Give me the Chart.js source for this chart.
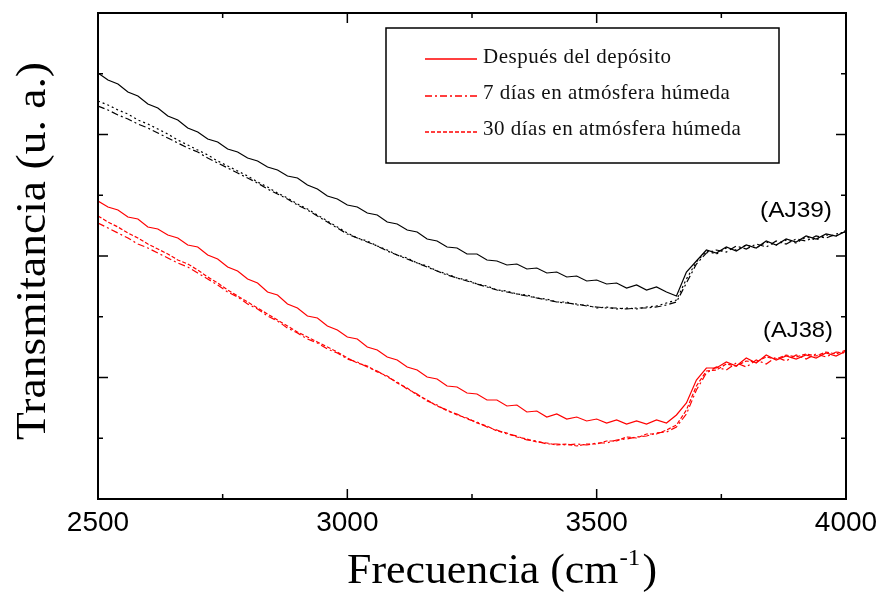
<!DOCTYPE html>
<html><head><meta charset="utf-8">
<script src="https://cdn.jsdelivr.net/npm/chart.js@4.4.1/dist/chart.umd.min.js"></script>
<style>html,body{margin:0;padding:0;background:#fff}canvas{display:block}</style>
</head><body>
<canvas id="c" width="882" height="592"></canvas>
<script>
const frecuencia = [2500,2520,2540,2560,2580,2600,2620,2640,2660,2680,2700,2720,2740,2760,2780,2800,2820,2840,2860,2880,2900,2920,2940,2960,2980,3000,3020,3040,3060,3080,3100,3120,3140,3160,3180,3200,3220,3240,3260,3280,3300,3320,3340,3360,3380,3400,3420,3440,3460,3480,3500,3520,3540,3560,3580,3600,3620,3640,3660,3680,3700,3720,3740,3760,3780,3800,3820,3840,3860,3880,3900,3920,3940,3960,3980,4000];

const aj39Despues = [42.6,41.9,41.5,40.7,40.3,39.5,39.1,38.3,37.9,37.1,36.7,36.0,35.7,35.0,34.7,34.1,33.8,33.2,32.9,32.3,32.1,31.4,31.0,30.3,30.0,29.4,29.2,28.6,28.4,27.7,27.5,26.9,26.7,26.0,25.8,25.2,25.1,24.5,24.5,23.9,23.8,23.4,23.5,23.0,23.1,22.6,22.7,22.2,22.3,21.8,21.9,21.5,21.6,21.1,21.4,20.9,21.2,20.7,20.3,22.7,23.8,24.9,24.6,25.2,24.8,25.4,25.1,25.8,25.4,26.0,25.7,26.3,26.0,26.5,26.3,26.8];
const aj39Dias7 = [39.3,38.9,38.4,38.0,37.5,37.1,36.6,36.1,35.6,35.1,34.7,34.1,33.6,33.1,32.6,32.1,31.6,31.0,30.5,30.0,29.4,28.9,28.3,27.7,27.1,26.5,26.1,25.7,25.3,24.8,24.4,24.0,23.6,23.2,22.8,22.4,22.1,21.8,21.5,21.2,20.9,20.7,20.5,20.3,20.1,19.9,19.7,19.6,19.5,19.3,19.2,19.1,19.1,19.0,19.1,19.1,19.2,19.4,19.7,21.6,23.5,24.6,24.9,24.7,25.3,25.0,25.5,25.2,25.8,25.5,26.0,25.8,26.3,26.1,26.5,26.7];
const aj39Dias30 = [39.8,39.4,38.9,38.5,37.9,37.5,37.0,36.5,35.9,35.4,34.9,34.4,33.8,33.3,32.8,32.3,31.7,31.2,30.6,30.1,29.5,29.0,28.4,27.8,27.2,26.6,26.1,25.8,25.3,24.9,24.4,24.1,23.6,23.3,22.8,22.5,22.1,21.9,21.5,21.3,20.9,20.8,20.5,20.4,20.1,20.0,19.7,19.7,19.4,19.4,19.1,19.2,19.0,19.1,19.0,19.2,19.3,19.6,19.9,22.0,23.7,24.8,24.5,25.1,24.9,25.4,25.1,25.7,25.4,25.9,25.6,26.2,25.9,26.4,26.3,26.9];
const aj38Despues = [29.8,29.2,28.9,28.2,28.0,27.2,27.0,26.4,26.1,25.4,25.2,24.4,24.0,23.2,22.8,22.0,21.6,20.7,20.4,19.5,19.1,18.3,18.1,17.3,16.9,16.2,16.0,15.2,14.9,14.2,13.9,13.2,12.9,12.2,12.0,11.3,11.2,10.6,10.5,9.9,9.9,9.3,9.4,8.7,8.8,8.2,8.5,8.0,8.2,7.8,8.0,7.6,7.9,7.5,7.8,7.5,7.9,7.6,8.4,9.6,11.9,13.1,13.1,13.7,13.3,14.1,13.6,14.4,13.9,14.3,14.0,14.4,14.1,14.6,14.3,14.8];
const aj38Dias7 = [27.6,27.1,26.6,26.1,25.5,25.1,24.6,24.1,23.6,23.2,22.6,22.0,21.4,20.7,20.2,19.5,19.0,18.3,17.8,17.1,16.6,16.0,15.6,15.0,14.6,14.0,13.7,13.2,12.8,12.2,11.7,11.0,10.5,9.8,9.4,8.8,8.5,8.0,7.7,7.2,6.9,6.5,6.3,5.9,5.8,5.5,5.5,5.4,5.5,5.4,5.6,5.6,5.9,6.0,6.2,6.3,6.6,6.7,7.2,8.5,10.9,12.6,13.2,12.9,13.6,13.2,13.9,13.5,14.2,13.8,14.4,14.0,14.5,14.2,14.7,14.6];
const aj38Dias30 = [28.3,27.7,27.2,26.6,26.1,25.5,25.0,24.5,23.9,23.5,22.9,22.2,21.6,20.9,20.3,19.7,19.1,18.5,17.9,17.3,16.7,16.2,15.7,15.2,14.7,14.1,13.6,13.3,12.7,12.3,11.6,11.1,10.4,9.9,9.3,8.9,8.4,8.1,7.6,7.3,6.8,6.6,6.2,6.0,5.7,5.6,5.4,5.5,5.3,5.5,5.5,5.8,5.8,6.2,6.1,6.5,6.5,6.9,7.4,8.9,11.3,12.8,12.9,13.5,13.3,13.8,13.7,14.2,14.0,14.4,14.2,14.5,14.3,14.7,14.5,14.9];

const xMajorTicks = [2500,3000,3500,4000];
const xMinorTicks = [2750,3250,3750];
const xTickLabels = ['2500','3000','3500','4000'];
const yTickValues = [0,6.075,12.15,18.225,24.3,30.375,36.45,42.525,48.6];
const legendLabels = ['Después del depósito','7 días en atmósfera húmeda','30 días en atmósfera húmeda'];
const sampleLabels = ['(AJ39)','(AJ38)'];
const xTitleMain = 'Frecuencia (cm';
const xTitleSup = '-1';
const xTitleEnd = ')';
const yTitle = 'Transmitancia (u. a.)';

const RED = '#ff0000', BLACK = '#000000';
const DASHDOT = [7,3,2,3], DOTTED = [2,3], DASHED = [4,2];
const pts = arr => arr.map((v,i)=>({x:frecuencia[i], y:v}));
const mk = (label, arr, color, dash) => ({label, data:pts(arr), borderColor:color, borderWidth:1.2, borderDash:dash, pointRadius:0, tension:0, fill:false});

const datasets = [
  mk(legendLabels[0], aj39Despues, BLACK, []),
  mk(legendLabels[1], aj39Dias7, BLACK, DASHDOT),
  mk(legendLabels[2], aj39Dias30, BLACK, DOTTED),
  mk(legendLabels[0], aj38Despues, RED, []),
  mk(legendLabels[1], aj38Dias7, RED, DASHDOT),
  mk(legendLabels[2], aj38Dias30, RED, DASHED)
];
const legendDashes = [[], DASHDOT, DASHED];

function fitText(ctx, text, x, y, targetW, align){
  const w = ctx.measureText(text).width;
  const s = targetW ? targetW / w : 1;
  ctx.save();
  ctx.translate(x, y);
  ctx.scale(s, 1);
  ctx.textAlign = align || 'left';
  ctx.fillText(text, 0, 0);
  ctx.restore();
  return w * s;
}

const deco = {
  id: 'deco',
  afterDraw(chart){
    const ctx = chart.ctx, a = chart.chartArea, xs = chart.scales.x, ys = chart.scales.y;
    const line = (x1,y1,x2,y2)=>{ctx.beginPath();ctx.moveTo(x1,y1);ctx.lineTo(x2,y2);ctx.stroke();};
    ctx.save();
    ctx.setLineDash([]);
    ctx.strokeStyle = '#000'; ctx.fillStyle = '#000';
    ctx.lineWidth = 2;
    ctx.strokeRect(a.left, a.top, a.right - a.left, a.bottom - a.top);
    ctx.lineWidth = 1.5;
    xs.ticks.forEach(t=>{
      const p = xs.getPixelForValue(t.value);
      const L = xMajorTicks.includes(t.value) ? 10 : 5;
      line(p, a.bottom, p, a.bottom - L);
      line(p, a.top, p, a.top + L);
    });
    ys.ticks.forEach((t,i)=>{
      const p = ys.getPixelForValue(t.value);
      const L = i % 2 === 0 ? 10 : 5;
      line(a.left, p, a.left + L, p);
      line(a.right, p, a.right - L, p);
    });
    // x tick labels
    ctx.font = '28px "Liberation Sans", Arial, sans-serif';
    ctx.textBaseline = 'alphabetic';
    xMajorTicks.forEach((v,i)=>{
      const p = xs.getPixelForValue(v);
      fitText(ctx, xTickLabels[i], p, 531, 0, 'center');
    });
    // x title
    ctx.font = '42px "Liberation Serif", "Times New Roman", serif';
    const wMain = ctx.measureText(xTitleMain).width;
    ctx.font = '24px "Liberation Serif", serif';
    const wSup = ctx.measureText(xTitleSup).width;
    ctx.font = '42px "Liberation Serif", serif';
    const wEnd = ctx.measureText(xTitleEnd).width;
    const total = wMain + wSup + wEnd + 3;
    const sx = 310 / total;
    ctx.save();
    ctx.translate(347, 583);
    ctx.scale(sx, 1);
    ctx.textAlign = 'left';
    ctx.font = '42px "Liberation Serif", serif';
    ctx.fillText(xTitleMain, 0, 0);
    ctx.font = '24px "Liberation Serif", serif';
    ctx.fillText(xTitleSup, wMain + 1, -18);
    ctx.font = '42px "Liberation Serif", serif';
    ctx.fillText(xTitleEnd, wMain + wSup + 3, 0);
    ctx.restore();
    // y title
    ctx.save();
    ctx.translate(45, 251);
    ctx.rotate(-Math.PI/2);
    ctx.font = '42px "Liberation Serif", serif';
    fitText(ctx, yTitle, 0, 0, 378, 'center');
    ctx.restore();
    // sample labels
    ctx.font = '22px "Liberation Sans", Arial, sans-serif';
    fitText(ctx, sampleLabels[0], 760, 217, 72, 'left');
    fitText(ctx, sampleLabels[1], 763, 337, 70, 'left');
    // legend
    ctx.fillStyle = '#fff';
    ctx.fillRect(386, 28, 393, 135);
    ctx.strokeStyle = '#000'; ctx.lineWidth = 1.5;
    ctx.strokeRect(386, 28, 393, 135);
    const rowsLine = [59, 96, 132], rowsText = [63, 99, 135];
    legendLabels.forEach((lab,k)=>{
      ctx.strokeStyle = RED; ctx.lineWidth = 1.6;
      ctx.setLineDash(legendDashes[k]);
      line(425, rowsLine[k], 477, rowsLine[k]);
      ctx.setLineDash([]);
      ctx.fillStyle = '#111';
      ctx.font = '21px "Liberation Serif", serif';
      if ('letterSpacing' in ctx) ctx.letterSpacing = '0.5px';
      ctx.textAlign = 'left';
      ctx.fillText(lab, 483, rowsText[k]);
      if ('letterSpacing' in ctx) ctx.letterSpacing = '0px';
    });
    ctx.restore();
  }
};

new Chart(document.getElementById('c'), {
  type: 'line',
  data: { datasets },
  options: {
    responsive: false,
    animation: false,
    devicePixelRatio: 1,
    layout: { padding: { left: 98, top: 13, right: 36, bottom: 93 } },
    plugins: { legend: { display: false }, tooltip: { enabled: false } },
    scales: {
      x: {
        type: 'linear', min: 2500, max: 4000,
        grid: { display: false }, border: { display: false },
        ticks: { display: false },
        afterBuildTicks: s => { s.ticks = xMajorTicks.concat(xMinorTicks).sort((p,q)=>p-q).map(v=>({value:v})); },
        afterFit: s => { s.height = 0; }
      },
      y: {
        type: 'linear', min: 0, max: 48.6,
        grid: { display: false }, border: { display: false },
        ticks: { display: false },
        afterBuildTicks: s => { s.ticks = yTickValues.map(v=>({value:v})); },
        afterFit: s => { s.width = 0; }
      }
    }
  },
  plugins: [deco]
});
</script>
</body></html>
